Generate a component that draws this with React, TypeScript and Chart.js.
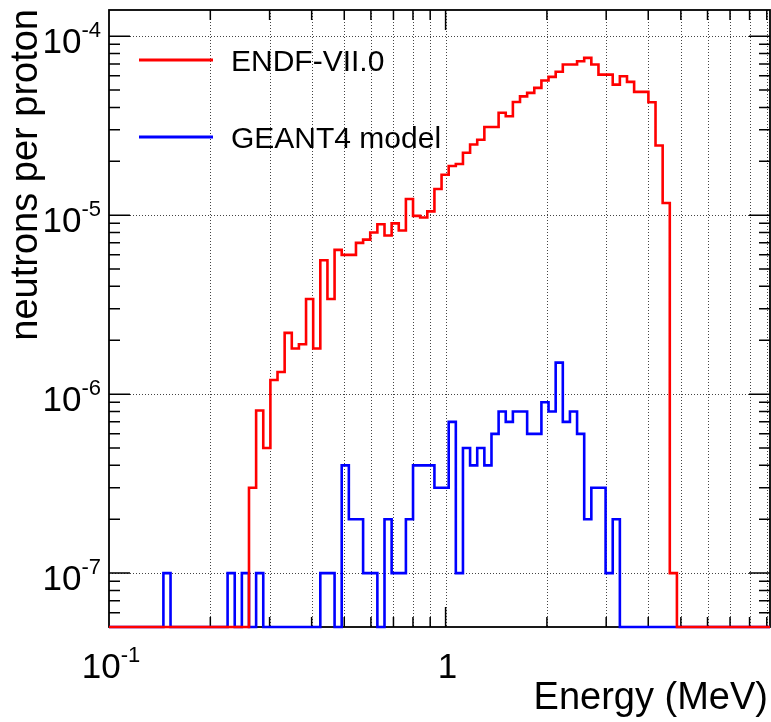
import React, { useEffect, useRef } from "react";
import { Chart, registerables } from "chart.js";

Chart.register(...registerables);

// ---------- data ----------
const SERIES_NAMES = ["ENDF-VII.0", "GEANT4 model"];
const SERIES_COLORS = ["#ff0000", "#0000ff"];

// log-spaced histogram bins: each bin is 5% wider than the previous one
const BIN_FIRST_EDGE = 0.0982; // MeV
const BIN_RATIO = 1.05;

// neutrons per proton, one value per bin (94 bins)
const ENDF_VALUES = [
  0, 0, 0, 0, 0, 0, 0, 0, 0, 0,
  0, 0, 0, 0, 0, 0, 0, 0, 0, 0,
  3.0e-7, 8.1e-7, 5.0e-7, 1.2e-6, 1.33e-6, 2.2e-6, 1.8e-6, 1.9e-6, 3.4e-6, 1.8e-6,
  5.6e-6, 3.4e-6, 6.4e-6, 6.0e-6, 6.0e-6, 7.0e-6, 7.3e-6, 8.0e-6, 8.9e-6, 7.7e-6,
  9.0e-6, 8.2e-6, 1.23e-5, 9.9e-6, 9.7e-6, 1.05e-5, 1.4e-5, 1.68e-5, 1.88e-5, 1.93e-5,
  2.23e-5, 2.48e-5, 2.64e-5, 3.11e-5, 3.11e-5, 3.73e-5, 3.57e-5, 4.29e-5, 4.61e-5, 4.82e-5,
  5.14e-5, 5.65e-5, 5.92e-5, 6.32e-5, 6.94e-5, 6.94e-5, 7.24e-5, 7.56e-5, 6.94e-5, 6.1e-5,
  6.1e-5, 5.36e-5, 5.97e-5, 5.55e-5, 4.88e-5, 4.88e-5, 4.27e-5, 2.45e-5, 1.17e-5, 1.0e-7,
  0, 0, 0, 0, 0, 0, 0, 0, 0, 0,
  0, 0, 0, 0,
];

const GEANT4_VALUES = [
  0, 0, 0, 0, 0, 0, 0, 0, 1e-7, 0,
  0, 0, 0, 0, 0, 0, 0, 1e-7, 0, 1e-7,
  0, 1e-7, 0, 0, 0, 0, 0, 0, 0, 0,
  1e-7, 1e-7, 0, 4e-7, 2e-7, 2e-7, 1e-7, 1e-7, 0, 2e-7,
  1e-7, 1e-7, 2e-7, 4e-7, 4e-7, 4e-7, 3e-7, 3e-7, 7e-7, 1e-7,
  5e-7, 4e-7, 5e-7, 4e-7, 6e-7, 8e-7, 7e-7, 8e-7, 8e-7, 6e-7,
  6e-7, 9e-7, 8e-7, 1.5e-6, 7e-7, 8e-7, 6e-7, 2e-7, 3e-7, 3e-7,
  1e-7, 2e-7, 0, 0, 0, 0, 0, 0, 0, 0,
  0, 0, 0, 0, 0, 0, 0, 0, 0, 0,
  0, 0, 0, 0,
];

// axes
const X_MIN = 0.1;
const X_MAX = 9.2;
const Y_MIN = 5e-8;
const Y_MAX = 1.4e-4;

const X_TITLE = "Energy (MeV)";
const Y_TITLE = "neutrons per proton";

const X_MAJOR_TICKS = [1];
const X_MINOR_TICKS = [0.2, 0.3, 0.4, 0.5, 0.6, 0.7, 0.8, 0.9, 2, 3, 4, 5, 6, 7, 8, 9];
const X_LABEL_VALUES = [0.1, 1];
const X_LABEL_BASES = ["10", "1"];
const X_LABEL_EXPS = ["-1", ""];

const Y_MAJOR_TICKS = [1e-7, 1e-6, 1e-5, 1e-4];
const Y_LABEL_BASES = ["10", "10", "10", "10"];
const Y_LABEL_EXPS = ["-7", "-6", "-5", "-4"];
const Y_MINOR_MULTIPLIERS = [2, 3, 4, 5, 6, 7, 8, 9];
const Y_MINOR_DECADES = [1e-8, 1e-7, 1e-6, 1e-5, 1e-4];

// ---------- helpers ----------
const FONT_FAMILY = "'Liberation Sans', Arial, Helvetica, sans-serif";
const BASE_FONT = `35px ${FONT_FAMILY}`;
const EXP_FONT = `22px ${FONT_FAMILY}`;
const TITLE_FONT = `38px ${FONT_FAMILY}`;
const LEGEND_FONT = `30px ${FONT_FAMILY}`;

function binEdges(n: number): number[] {
  const edges: number[] = [];
  for (let k = 0; k <= n; k++) edges.push(BIN_FIRST_EDGE * Math.pow(BIN_RATIO, k));
  return edges;
}

function histogramPoints(values: number[]) {
  const edges = binEdges(values.length);
  const pts = values.map((v, k) => ({ x: edges[k], y: v > 0 ? v : Y_MIN }));
  pts.push({ x: edges[values.length], y: pts[pts.length - 1].y });
  return pts;
}

function drawPower(
  ctx: CanvasRenderingContext2D,
  base: string,
  exp: string,
  anchorX: number,
  baseline: number,
  align: "right" | "center"
) {
  ctx.font = BASE_FONT;
  const wb = ctx.measureText(base).width;
  ctx.font = EXP_FONT;
  const we = exp ? ctx.measureText(exp).width : 0;
  const total = wb + we;
  const left = align === "right" ? anchorX - total : anchorX - total / 2;
  ctx.textAlign = "left";
  ctx.textBaseline = "alphabetic";
  ctx.fillStyle = "#000";
  ctx.font = BASE_FONT;
  ctx.fillText(base, left, baseline);
  if (exp) {
    ctx.font = EXP_FONT;
    ctx.fillText(exp, left + wb, baseline - 16);
  }
}

const rootStylePlugin = {
  id: "rootStyle",
  beforeDatasetsDraw(chart: any) {
    const { ctx, chartArea: a } = chart;
    const xs = chart.scales.x;
    const ys = chart.scales.y;
    ctx.save();
    // dotted grid
    ctx.strokeStyle = "#444";
    ctx.lineWidth = 1;
    ctx.setLineDash([1, 2]);
    [...X_MINOR_TICKS, ...X_MAJOR_TICKS].forEach((v) => {
      const px = Math.round(xs.getPixelForValue(v)) + 0.5;
      ctx.beginPath();
      ctx.moveTo(px, a.top);
      ctx.lineTo(px, a.bottom);
      ctx.stroke();
    });
    Y_MAJOR_TICKS.forEach((v) => {
      const py = Math.round(ys.getPixelForValue(v)) + 0.5;
      ctx.beginPath();
      ctx.moveTo(a.left, py);
      ctx.lineTo(a.right, py);
      ctx.stroke();
    });
    ctx.setLineDash([]);

    // frame
    ctx.strokeStyle = "#000";
    ctx.lineWidth = 1.8;
    ctx.strokeRect(a.left, a.top, a.right - a.left, a.bottom - a.top);

    // ticks
    ctx.lineWidth = 1.5;
    const xTick = (v: number, len: number) => {
      const px = xs.getPixelForValue(v);
      ctx.beginPath();
      ctx.moveTo(px, a.bottom);
      ctx.lineTo(px, a.bottom - len);
      ctx.moveTo(px, a.top);
      ctx.lineTo(px, a.top + len);
      ctx.stroke();
    };
    X_MINOR_TICKS.forEach((v) => xTick(v, 10));
    X_MAJOR_TICKS.forEach((v) => xTick(v, 20));
    const yTick = (v: number, len: number) => {
      if (v < Y_MIN || v > Y_MAX) return;
      const py = ys.getPixelForValue(v);
      ctx.beginPath();
      ctx.moveTo(a.left, py);
      ctx.lineTo(a.left + len, py);
      ctx.moveTo(a.right, py);
      ctx.lineTo(a.right - len, py);
      ctx.stroke();
    };
    Y_MINOR_DECADES.forEach((d) => Y_MINOR_MULTIPLIERS.forEach((m) => yTick(m * d, 11)));
    Y_MAJOR_TICKS.forEach((v) => yTick(v, 21));
    ctx.restore();
  },
  afterDatasetsDraw(chart: any) {
    const { ctx, chartArea: a } = chart;
    const xs = chart.scales.x;
    const ys = chart.scales.y;
    ctx.save();
    // tick labels
    Y_MAJOR_TICKS.forEach((v, i) => {
      const py = ys.getPixelForValue(v);
      drawPower(ctx, Y_LABEL_BASES[i], Y_LABEL_EXPS[i], 101, py + 17, "right");
    });
    X_LABEL_VALUES.forEach((v, i) => {
      const px = xs.getPixelForValue(v);
      drawPower(ctx, X_LABEL_BASES[i], X_LABEL_EXPS[i], px + 2, 678, "center");
    });
    // axis titles
    ctx.fillStyle = "#000";
    ctx.font = TITLE_FONT;
    ctx.textBaseline = "alphabetic";
    ctx.textAlign = "right";
    ctx.fillText(X_TITLE, a.right - 2, 709);
    ctx.save();
    ctx.translate(37, a.top - 1);
    ctx.rotate(-Math.PI / 2);
    ctx.textAlign = "right";
    ctx.fillText(Y_TITLE, 0, 0);
    ctx.restore();

    // legend
    const legendY = [60, 137];
    SERIES_NAMES.forEach((name, i) => {
      ctx.strokeStyle = SERIES_COLORS[i];
      ctx.lineWidth = 3;
      ctx.beginPath();
      ctx.moveTo(139, legendY[i]);
      ctx.lineTo(213, legendY[i]);
      ctx.stroke();
      ctx.fillStyle = "#000";
      ctx.font = LEGEND_FONT;
      ctx.textAlign = "left";
      ctx.fillText(name, 231, legendY[i] + 10.5);
    });
    ctx.restore();
  },
};

export default function App() {
  const canvasRef = useRef<HTMLCanvasElement | null>(null);

  useEffect(() => {
    const canvas = canvasRef.current;
    if (!canvas) return;
    const chart = new Chart(canvas, {
      type: "line",
      data: {
        datasets: [
          {
            label: SERIES_NAMES[0],
            data: histogramPoints(ENDF_VALUES),
            borderColor: SERIES_COLORS[0],
            borderWidth: 2.6,
            stepped: true,
            pointRadius: 0,
            fill: false,
            tension: 0,
            clip: { left: 0, top: 0, right: 0, bottom: 4 },
          },
          {
            label: SERIES_NAMES[1],
            data: histogramPoints(GEANT4_VALUES),
            borderColor: SERIES_COLORS[1],
            borderWidth: 2.6,
            stepped: true,
            pointRadius: 0,
            fill: false,
            tension: 0,
            clip: { left: 0, top: 0, right: 0, bottom: 4 },
          },
        ],
      },
      options: {
        animation: false,
        responsive: false,
        maintainAspectRatio: false,
        devicePixelRatio: 1,
        parsing: true,
        layout: { padding: { left: 109, top: 10, right: 1, bottom: 95 } },
        plugins: {
          legend: { display: false },
          tooltip: { enabled: false },
        },
        scales: {
          x: { type: "logarithmic", min: X_MIN, max: X_MAX, display: false },
          y: { type: "logarithmic", min: Y_MIN, max: Y_MAX, display: false },
        },
      } as any,
      plugins: [rootStylePlugin],
    } as any);
    return () => chart.destroy();
  }, []);

  return (
    <div
      style={{
        position: "absolute",
        left: 0,
        top: 0,
        width: 771,
        height: 722,
        background: "#ffffff",
      }}
    >
      <canvas ref={canvasRef} width={771} height={722} style={{ display: "block" }} />
    </div>
  );
}
